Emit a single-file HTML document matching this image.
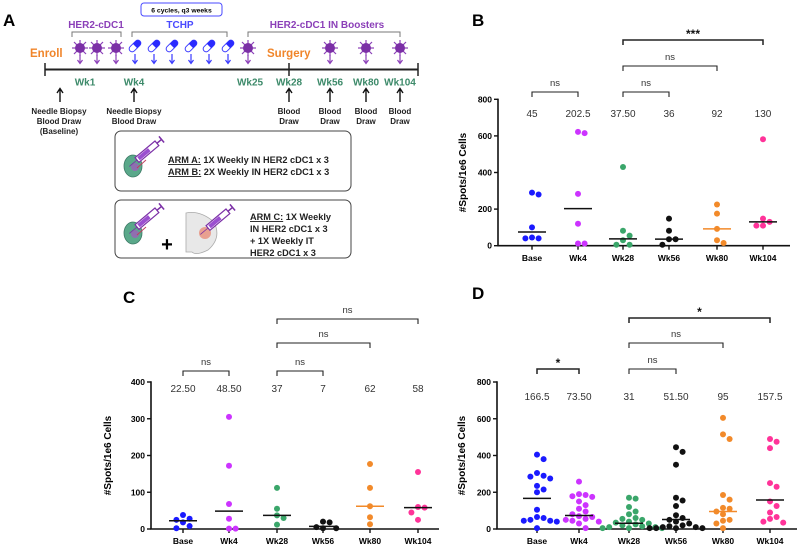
<!DOCTYPE html>
<html><head><meta charset="utf-8">
<style>
html,body{margin:0;padding:0;background:#fff;}
svg{display:block;font-family:"Liberation Sans",Arial,sans-serif;}
.lbl{font-weight:bold;font-size:17px;}
.tick{font-weight:bold;font-size:8.5px;}
.med{font-size:10px;fill:#333;}
.sig{font-size:9.5px;fill:#333;}
.ytitle{font-weight:bold;font-size:10px;}
.wk{fill:#3d8a6a;font-weight:bold;font-size:10px;}
.small{font-weight:bold;font-size:8px;fill:#222;}
.arm{font-weight:bold;font-size:9.2px;fill:#222;}
</style></head>
<body>
<svg id="fig" width="800" height="546" viewBox="0 0 800 546">
<defs>
<g id="cell">
  <g stroke="#8b3fb8" stroke-width="1.2">
    <line x1="-8" y1="0" x2="8" y2="0"/><line x1="0" y1="-8" x2="0" y2="8"/>
    <line x1="-6" y1="-6" x2="6" y2="6"/><line x1="-6" y1="6" x2="6" y2="-6"/>
  </g>
  <circle r="5" fill="#7b2fa6"/>
</g>
<g id="pill">
  <g transform="rotate(-45)">
    <rect x="-7" y="-3" width="14" height="6" rx="3" fill="#fff" stroke="#3a3aff" stroke-width="1"/>
    <path d="M0,-3 H4 A3,3 0 0 1 4,3 H0 Z" fill="#2a2aff"/>
  </g>
</g>
<g id="vaxcell">
  <ellipse cx="0" cy="0" rx="9" ry="11" fill="#5aa88a" stroke="#3d7a66" stroke-width="0.8"/>
  <circle cx="2" cy="1" r="4" fill="#8f6fb0"/>
  <line x1="4" y1="2" x2="13" y2="-6" stroke="#c04060" stroke-width="1"/>
</g>
<g id="syringe">
  <g transform="rotate(-40)">
    <rect x="0" y="-3" width="26" height="6" fill="#fff" stroke="#7b2fa6" stroke-width="1.2"/>
    <rect x="2" y="-2" width="14" height="4" fill="#9b4fd0"/>
    <line x1="26" y1="0" x2="32" y2="0" stroke="#7b2fa6" stroke-width="1.5"/>
    <line x1="32" y1="-4" x2="32" y2="4" stroke="#7b2fa6" stroke-width="1.5"/>
    <line x1="0" y1="0" x2="-10" y2="0" stroke="#7b2fa6" stroke-width="0.8"/>
  </g>
</g>
</defs>

<!-- ================= PANEL A ================= -->
<g id="panelA">
<text class="lbl" x="3" y="26">A</text>
<rect x="141" y="3" width="81" height="13" rx="3" fill="#fff" stroke="#4a4aff" stroke-width="1"/>
<text x="181.5" y="12.5" text-anchor="middle" style="font-size:6.8px;font-weight:bold">6 cycles, q3 weeks</text>

<text x="96" y="28" text-anchor="middle" fill="#8b3fb8" style="font-size:10px;font-weight:bold">HER2-cDC1</text>
<path d="M72,37 V32 H121 V37" fill="none" stroke="#777" stroke-width="1"/>
<text x="180" y="28" text-anchor="middle" fill="#4a4aff" style="font-size:10px;font-weight:bold">TCHP</text>
<path d="M132,37 V32 H227 V37" fill="none" stroke="#777" stroke-width="1"/>
<text x="327" y="28" text-anchor="middle" fill="#8b3fb8" style="font-size:10px;font-weight:bold">HER2-cDC1 IN Boosters</text>
<path d="M248,37 V32 H400 V37" fill="none" stroke="#777" stroke-width="1"/>

<text x="30" y="57" fill="#f0852a" style="font-size:11.5px;font-weight:bold">Enroll</text>
<text x="267" y="57" fill="#f0852a" style="font-size:11.5px;font-weight:bold">Surgery</text>

<g id="icons"></g>

<line x1="45" y1="69.5" x2="418" y2="69.5" stroke="#222" stroke-width="2"/>
<line x1="45" y1="63" x2="45" y2="76" stroke="#222" stroke-width="1.5"/>
<line x1="289" y1="63" x2="289" y2="76" stroke="#222" stroke-width="1.5"/>
<line x1="418" y1="63" x2="418" y2="76" stroke="#222" stroke-width="1.5"/>
<g id="weeks"></g>

<text class="small" text-anchor="middle"><tspan x="59" y="114">Needle Biopsy</tspan><tspan x="59" y="124">Blood Draw</tspan><tspan x="59" y="134">(Baseline)</tspan></text>
<text class="small" text-anchor="middle"><tspan x="134" y="114">Needle Biopsy</tspan><tspan x="134" y="124">Blood Draw</tspan></text>
<g id="drawnotes"></g>

<rect x="115" y="131" width="236" height="60" rx="6" fill="#fff" stroke="#444" stroke-width="1"/>
<use href="#vaxcell" x="133" y="166"/>
<use href="#syringe" x="137" y="160"/>
<text class="arm" x="168" y="163"><tspan text-decoration="underline">ARM A:</tspan> 1X Weekly IN HER2 cDC1 x 3</text>
<text class="arm" x="168" y="175"><tspan text-decoration="underline">ARM B:</tspan> 2X Weekly IN HER2 cDC1 x 3</text>

<rect x="115" y="200" width="236" height="58" rx="6" fill="#fff" stroke="#444" stroke-width="1"/>
<use href="#vaxcell" x="133" y="233"/>
<use href="#syringe" x="137" y="227"/>
<text x="167" y="251" text-anchor="middle" style="font-size:20px;font-weight:bold">+</text>
<path d="M186,213 Q200,210 214,222 Q222,238 208,250 Q196,256 192,252 L186,252 Z" fill="#e8e8e8" stroke="#aaa" stroke-width="0.8"/>
<circle cx="205" cy="233" r="6" fill="#e8a090"/>
<use href="#syringe" x="208" y="228"/>
<text class="arm"><tspan x="250" y="220" text-decoration="underline">ARM C:</tspan><tspan> 1X Weekly</tspan><tspan x="250" y="232">IN HER2 cDC1 x 3</tspan><tspan x="250" y="244">+ 1X Weekly IT</tspan><tspan x="250" y="256">HER2 cDC1 x 3</tspan></text>
</g>

<g id="panels"></g>
</svg>

<script>
// ---------- Panel A helper data ----------
const cellXs = [80, 97, 116, 248, 330, 366, 400];
const pillXs = [135, 154, 172, 191, 209, 228];
const weekLabels = ["Wk1","Wk4","Wk25","Wk28","Wk56","Wk80","Wk104"];
const weekXs = [85, 134, 250, 289, 330, 366, 400];
const drawXs = [289, 330, 366, 400];
const upArrowXs = [60, 134, 289, 330, 366, 400];

// ---------- Chart data ----------
const categories = ["Base","Wk4","Wk28","Wk56","Wk80","Wk104"];
const colors = ["#1a1aff","#cc33ff","#3aa66a","#111111","#f28a2a","#ff3399"];

const bValues = [
  [290, 280, 100, 45, 40, 40],
  [622, 615, 283, 120, 12, 12],
  [430, 82, 55, 30, 5, 5],
  [148, 82, 35, 35, 5],
  [225, 175, 92, 30, 15],
  [582, 148, 130, 110, 110]
];
const bMedians = [75, 202.5, 37.5, 36, 92, 130];
const bMedianLabels = ["45","202.5","37.50","36","92","130"];
const bTicks = [0, 200, 400, 600, 800];

const cValues = [
  [38, 28, 25, 18, 8, 2],
  [305, 172, 68, 28, 1, 1],
  [112, 55, 37, 30, 12],
  [20, 18, 5, 2, 2],
  [177, 112, 62, 32, 13],
  [155, 60, 58, 45, 25]
];
const cMedians = [22.5, 48.5, 37, 7, 62, 58];
const cMedianLabels = ["22.50","48.50","37","7","62","58"];
const cTicks = [0, 100, 200, 300, 400];

const dValues = [
  [405,380,305,290,285,275,235,215,200,105,65,60,50,45,45,40,5],
  [258,190,185,178,175,150,130,110,95,80,70,65,55,50,45,40,30,5],
  [170,165,120,95,80,60,55,50,40,35,30,25,20,15,10,10,5,5,5],
  [445,420,350,170,155,125,75,60,50,40,30,20,15,10,10,5,5,5,5],
  [605,515,490,185,160,115,110,95,80,50,45,30,5],
  [490,475,440,250,230,150,125,90,65,55,40,35]
];
const dMedians = [166.5, 73.5, 31, 51.5, 95, 157.5];
const dMedianLabels = ["166.5","73.50","31","51.50","95","157.5"];
const dTicks = [0, 200, 400, 600, 800];

const bBrackets = [[0,1,"ns"],[2,3,"ns"],[2,4,"ns"],[2,5,"***"]];
const cBrackets = [[0,1,"ns"],[2,3,"ns"],[2,4,"ns"],[2,5,"ns"]];
const dBrackets = [[0,1,"*"],[2,3,"ns"],[2,4,"ns"],[2,5,"*"]];

const NS = "http://www.w3.org/2000/svg";
function mk(tag, attrs, parent, text){
  const e = document.createElementNS(NS, tag);
  for (const k in attrs) e.setAttribute(k, attrs[k]);
  if (text !== undefined) e.textContent = text;
  parent.appendChild(e);
  return e;
}

// ---- Panel A dynamic bits ----
const icons = document.getElementById('icons');
cellXs.forEach((x,i)=>{
  const u = mk('use',{href:'#cell',x:x,y:48},icons);
  
  
  const a = mk('path',{d:`M${x},55 V63 M${x-2.5},60 L${x},63.5 L${x+2.5},60`,stroke:'#8b3fb8','stroke-width':1.2,fill:'none'},icons);
  
  
});
pillXs.forEach((x,i)=>{
  const u = mk('use',{href:'#pill',x:x,y:46},icons);
  
  
  const a = mk('path',{d:`M${x},54 V63 M${x-2.5},60 L${x},63.5 L${x+2.5},60`,stroke:'#3a3aff','stroke-width':1.2,fill:'none'},icons);
  
  
});
const weeks = document.getElementById('weeks');
weekLabels.forEach((w,i)=>{
  const t = mk('text',{class:'wk',x:weekXs[i],y:85.5,'text-anchor':'middle'},weeks,w);
  
  
});
upArrowXs.forEach(x=>{
  const a = mk('path',{d:`M${x},102 V89 M${x-3},93 L${x},88.5 L${x+3},93`,stroke:'#111','stroke-width':1.4,fill:'none'},weeks);
  
  
});
const dn = document.getElementById('drawnotes');
drawXs.forEach(x=>{
  const t = mk('text',{class:'small','text-anchor':'middle'},dn);
  
  
  mk('tspan',{x:x,y:114},t,'Blood');
  mk('tspan',{x:x,y:124},t,'Draw');
});

// ---- Dot plots ----
const panels = document.getElementById('panels');
function drawPanel(cfg){
  const g = mk('g',{},panels);
  
  
  const yMax = cfg.ticks[cfg.ticks.length-1];
  const yScale = v => cfg.y0 - (v / yMax) * (cfg.y0 - cfg.yTop);
  const xScale = i => cfg.cats[i];

  const L = mk('text',{class:'lbl',x:cfg.labelX,y:cfg.labelY},g,cfg.letter);
  
  

  const ya = mk('line',{x1:cfg.axisX,y1:yScale(yMax)-0.7,x2:cfg.axisX,y2:cfg.y0,stroke:'#111','stroke-width':1.6},g);
  
  
  const xa = mk('line',{x1:cfg.axisX-0.8,y1:cfg.y0,x2:cfg.axisEnd,y2:cfg.y0,stroke:'#111','stroke-width':1.6},g);
  
  
  cfg.ticks.forEach(t=>{
    const y = yScale(t);
    mk('line',{x1:cfg.axisX-4,y1:y,x2:cfg.axisX,y2:y,stroke:'#111','stroke-width':1.4},g);
    const tl = mk('text',{class:'tick',x:cfg.axisX-6,y:y+3,'text-anchor':'end'},g,String(t));
    
    
  });
  const yt = mk('text',{class:'ytitle',transform:`translate(${cfg.titleX},${(cfg.y0+cfg.yTop)/2}) rotate(-90)`,'text-anchor':'middle'},g,'#Spots/1e6 Cells');
  
  

  categories.forEach((c,i)=>{
    const x = xScale(i);
    mk('line',{x1:x,y1:cfg.y0,x2:x,y2:cfg.y0+4,stroke:'#111','stroke-width':1.4},g);
    const tl = mk('text',{class:'tick',x:x,y:cfg.tickY,'text-anchor':'middle'},g,c);
    
    
    const ml = mk('text',{class:'med',x:x,y:cfg.medY,'text-anchor':'middle'},g,cfg.medLabels[i]);
    
    

    const r = 3, placed = [];
    cfg.values[i].forEach(v=>{
      const y = yScale(v);
      let off = 0;
      for (let k=0;k<40;k++){
        const cand = k===0?0:(k%2? 1:-1)*Math.ceil(k/2)*(2*r+0.6);
        if (placed.every(p=>Math.hypot(p[0]-(x+cand),p[1]-y) >= 2*r+0.4)){ off = cand; break; }
      }
      placed.push([x+off,y]);
      const d = mk('circle',{cx:x+off,cy:y,r:r,fill:colors[i]},g);
      
      
    });
    const my = yScale(cfg.medians[i]);
    const ln = mk('line',{x1:x-14,y1:my,x2:x+14,y2:my,stroke:(i===4?'#f28a2a':'#111'),'stroke-width':1.5},g);
    
    
  });

  cfg.brackets.forEach((b,k)=>{
    const x1 = xScale(b[0]), x2 = xScale(b[1]), y = cfg.bracketYs[k];
    const p = mk('path',{d:`M${x1},${y+5} V${y} H${x2} V${y+5}`,fill:'none',stroke:'#222','stroke-width':(b[2]==='ns'?1.1:1.5)},g);
    
    
    const star = b[2] !== 'ns';
    const t = mk('text',{class:'sig',x:(x1+x2)/2,y:y-(star?2:6),'text-anchor':'middle',style:star?'font-size:12px;font-weight:bold;fill:#111':''},g,b[2]);
    
    
  });
}

drawPanel({name:'panel-b-chart',letter:'B',labelX:472,labelY:26,axisX:498,axisEnd:790,y0:245.7,yTop:99.3,
  cats:[532,578,623,669,717,763],ticks:bTicks,values:bValues,medians:bMedians,medLabels:bMedianLabels,
  medY:117,tickY:261,titleX:466,brackets:bBrackets,bracketYs:[92,92,66,40]});
drawPanel({name:'panel-c-chart',letter:'C',labelX:123,labelY:303,axisX:151,axisEnd:439,y0:529,yTop:382,
  cats:[183,229,277,323,370,418],ticks:cTicks,values:cValues,medians:cMedians,medLabels:cMedianLabels,
  medY:392,tickY:544,titleX:111,brackets:cBrackets,bracketYs:[371,371,343,319]});
drawPanel({name:'panel-d-chart',letter:'D',labelX:472,labelY:299,axisX:497,axisEnd:797,y0:529,yTop:382,
  cats:[537,579,629,676,723,770],ticks:dTicks,values:dValues,medians:dMedians,medLabels:dMedianLabels,
  medY:400,tickY:544,titleX:465,brackets:dBrackets,bracketYs:[369,369,343,318]});
</script>
</body></html>
